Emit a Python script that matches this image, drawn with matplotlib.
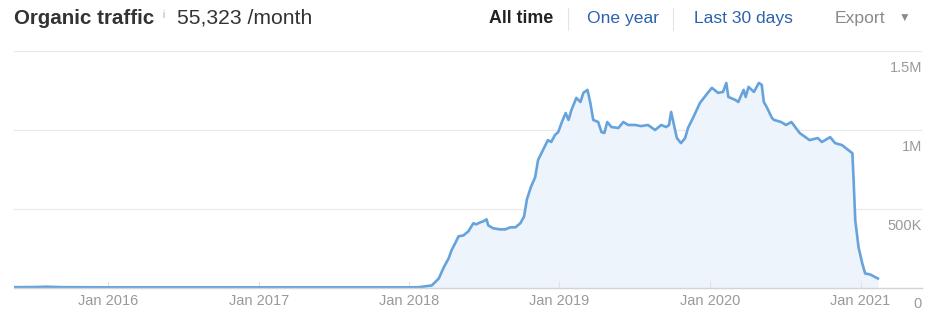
import matplotlib
matplotlib.use('Agg')
import matplotlib.pyplot as plt
import matplotlib.dates as mdates
import matplotlib.transforms as mtransforms
import pandas as pd

plt.rcParams['font.family'] = ['Liberation Sans', 'DejaVu Sans']

# organic traffic per month (values in thousands)
dates = [
    '2015-05-18', '2015-07-10', '2015-08-05', '2015-09-10', '2016-01-01',
    '2017-01-01', '2018-01-01', '2018-01-25', '2018-02-25', '2018-03-14',
    '2018-03-26', '2018-04-07', '2018-04-14', '2018-04-24', '2018-05-01',
    '2018-05-13', '2018-05-25', '2018-06-06', '2018-06-13', '2018-06-23',
    '2018-06-30', '2018-07-08', '2018-07-12', '2018-07-24', '2018-08-10',
    '2018-08-22', '2018-09-04', '2018-09-16', '2018-09-28', '2018-10-07',
    '2018-10-14', '2018-10-24', '2018-11-03', '2018-11-10', '2018-11-22',
    '2018-12-04', '2018-12-12', '2018-12-21', '2018-12-29', '2019-01-06',
    '2019-01-16', '2019-01-23', '2019-01-30', '2019-02-11', '2019-02-21',
    '2019-02-28', '2019-03-10', '2019-03-17', '2019-03-24', '2019-04-05',
    '2019-04-13', '2019-04-20', '2019-04-27', '2019-05-07', '2019-05-24',
    '2019-06-05', '2019-06-17', '2019-07-04', '2019-07-18', '2019-08-04',
    '2019-08-21', '2019-09-05', '2019-09-17', '2019-09-24', '2019-09-29',
    '2019-10-06', '2019-10-13', '2019-10-23', '2019-11-02', '2019-11-09',
    '2019-11-21', '2019-12-08', '2019-12-27', '2020-01-06', '2020-01-21',
    '2020-02-02', '2020-02-10', '2020-02-15', '2020-03-03', '2020-03-10',
    '2020-03-23', '2020-03-28', '2020-04-04', '2020-04-17', '2020-04-29',
    '2020-05-06', '2020-05-11', '2020-05-18', '2020-05-31', '2020-06-05',
    '2020-06-22', '2020-07-04', '2020-07-17', '2020-08-06', '2020-08-30',
    '2020-09-19', '2020-09-29', '2020-10-19', '2020-10-31', '2020-11-17',
    '2020-12-02', '2020-12-12', '2020-12-15', '2020-12-19', '2020-12-27',
    '2021-01-05', '2021-01-12', '2021-01-24', '2021-02-12',
]
traffic_k = [
    2, 3, 5, 2, 1,
    1, 1, 2, 13, 57,
    127, 185, 236, 287, 325,
    331, 357, 408, 401, 414,
    420, 433, 395, 376, 369,
    369, 382, 382, 408, 450,
    560, 640, 700, 809, 873,
    936, 924, 968, 987, 1045,
    1108, 1064, 1127, 1204, 1178,
    1236, 1255, 1172, 1064, 1051,
    987, 981, 1051, 1019, 1013,
    1051, 1032, 1032, 1025, 1032,
    1000, 1032, 1019, 1032, 1115,
    1032, 949, 917, 949, 1013,
    1076, 1172, 1236, 1268, 1236,
    1242, 1299, 1210, 1191, 1178,
    1255, 1210, 1274, 1242, 1299,
    1287, 1178, 1146, 1076, 1064,
    1051, 1032, 1051, 981, 936,
    949, 924, 955, 917, 904,
    873, 853, 681, 427, 255,
    153, 89, 83, 57,
]
year_ticks = ['2016-01-01', '2017-01-01', '2018-01-01', '2019-01-01', '2020-01-01', '2021-01-01']
y_ticks = [0, 500000, 1000000, 1500000]
y_labels = ['0', '500K', '1M', '1.5M']

x = pd.to_datetime(dates)
y = [v * 1000 for v in traffic_k]

fig = plt.figure(figsize=(9.37, 3.19), dpi=100)
ax = fig.add_axes([14 / 937, (319 - 287.5) / 319, (922 - 14) / 937, (287.5 - 50.5) / 319])

ax.fill_between(x, y, 0, color='#eef4fb', lw=0)
ax.plot(x, y, color='#66a3dc', lw=1.9, solid_joinstyle='round')

ax.set_xlim(pd.Timestamp('2015-05-18'), pd.Timestamp('2021-05-30'))
ax.set_ylim(0, 1505000)

for s in ['top', 'right', 'left']:
    ax.spines[s].set_visible(False)
ax.spines['bottom'].set_color('#d4d4d4')
ax.spines['bottom'].set_linewidth(1)

for v in y_ticks[1:]:
    ax.axhline(v, color='#e9e9e9', lw=0.9, zorder=0)

ax.set_yticks([])
ax.set_xticks(pd.to_datetime(year_ticks))
ax.xaxis.set_major_formatter(mdates.DateFormatter('Jan %Y'))
ax.tick_params(axis='x', direction='in', length=5, width=0.8, color='#e2e2e2',
               labelcolor='#9a9a9a', labelsize=10.5, pad=5)

trans = mtransforms.blended_transform_factory(ax.transAxes, ax.transData)
for v, lab in zip(y_ticks, y_labels):
    ax.annotate(lab, xy=(1.0, v), xycoords=trans, xytext=(0, -17), textcoords='offset pixels',
                ha='right', va='center', color='#9a9a9a', fontsize=10.5, annotation_clip=False)

# header
hy = 1 - 18.5 / 319
fig.text(14 / 937, hy, 'Organic traffic', fontsize=14.8, fontweight='bold', color='#333333', va='center')
fig.text(162 / 937, hy + 0.012, 'i', fontsize=7, color='#aaaaaa', va='center')
fig.text(177 / 937, hy, '55,323 /month', fontsize=15.2, color='#333333', va='center')

fig.text(489 / 937, hy, 'All time', fontsize=12.8, fontweight='bold', color='#222222', va='center')
fig.text(587 / 937, hy, 'One year', fontsize=12.6, color='#2c62ad', va='center')
fig.text(694 / 937, hy, 'Last 30 days', fontsize=12.6, color='#2c62ad', va='center')
fig.text(835 / 937, hy, 'Export', fontsize=12.6, color='#8a8a8a', va='center')
fig.text(899 / 937, hy, '\u25bc', fontsize=8.5, color='#8a8a8a', va='center')
for sx in [568, 673]:
    fig.add_artist(plt.Line2D([sx / 937, sx / 937], [1 - 8 / 319, 1 - 30 / 319], color='#e4e4e4', lw=0.8))

fig.savefig('out.png', dpi=100, facecolor='white')
